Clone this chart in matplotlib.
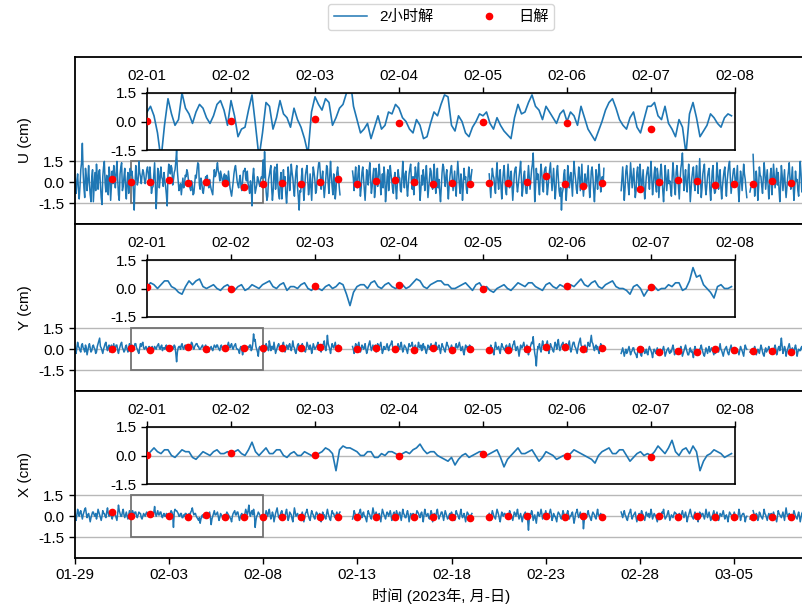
import numpy as np
import pandas as pd
import matplotlib
matplotlib.use("Agg")
import matplotlib.pyplot as plt
import matplotlib.dates as mdates
from matplotlib.patches import Rectangle

plt.rcParams['font.family'] = ['Liberation Sans', 'Noto Sans CJK SC']
plt.rcParams['font.size'] = 11
plt.rcParams['axes.unicode_minus'] = False

N = None
# ---------- 2-hour solutions, sampled hourly, in mm; one row per day from 2023-01-29 ----------
U_mm = [
 [3, -2, -8, 1, 6, -5, -12, -3, 9, 14, 28, 7, -4, -11, 10, 4, -6, 2, 12, -1, -9, -14, 4, 9],
 [-14, -4, 7, -6, 13, 3, -5, 8, 9, -2, -11, -16, 4, 11, 15, -1, -7, 5, 2, -9, 11, 6, -13, -3],
 [8, -1, 12, 5, -4, 7, 15, 2, -9, -13, 6, 11, 14, -6, -3, 4, 10, -5, -12, 1, 7, -8, 3, 10],
 [5, 8, 3, -6, -20, -2, 12, 4, -2, 1, 15, 7, 4, -1, 5, 9, 7, 2, -1, 3, 9, 11, 6, -2],
 [11, 3, -8, -4, -3, 6, 14, -2, -19, -6, 10, 8, -4, 2, 11, 4, 2, -3, 7, 1, -3, -9, -17, 5],
 [13, 9, 6, 12, 10, -2, 2, 7, 9, 15, 23, 8, 1, -6, -4, -1, -9, -3, 3, -4, -2, 5, 4, 9],
 [7, 2, 0, -4, -6, 1, -2, -9, -8, -1, 5, 3, 9, 14, 13, -2, -5, 3, 0, -6, -8, -3, 0, 4],
 [3, 5, -1, -4, 2, -2, -5, -7, -9, 2, 9, 4, 5, 10, 14, 8, 6, 1, 8, 5, 2, -1, 4, 6],
 [0, 5, 3, -2, 8, 2, -4, -7, -10, -5, 0, 6, 10, 12, 7, 1, -2, -4, 2, 5, -3, -6, 1, 8],
 [8, 10, 3, 1, 8, -1, -4, -8, 1, -3, -17, 4, 10, 2, -8, -5, -2, 4, 2, -1, -3, 2, 4, 3],
 [16, 3, 22, 6, -7, -13, -10, 2, 5, 9, 12, -4, -13, -6, 8, 11, -5, 3, 13, -2, -9, -12, 2, 7],
 [-12, -3, 9, -1, 4, -8, -15, -6, 11, 5, -6, 2, 13, 7, 3, -5, -10, 1, 8, 12, -4, -11, -20, -6],
 [-7, 4, 10, -2, -13, -5, 5, 9, 12, 1, -9, -4, 6, -3, -13, 2, 11, 7, 2, -8, -6, 3, 9, 14],
 [14, 6, -5, 2, 8, -3, -11, -4, 3, 12, 10, -1, -8, 5, 15, 4, -3, -9, 6, 1, -12, -5, 7, 11],
 [5, -3, -9, N, N, N, N, N, N, N, N, N, N, N, N, N, N, N, 8, 3, -6, 4, 11, -2],
 [-4, 6, 12, 1, -10, -4, 7, 11, 3, -6, -13, -2, 9, 4, -2, 8, 14, 2, -8, -3, 5, 10, -11, -5],
 [10, 2, -3, 7, 13, 4, -9, -2, 6, -4, 11, 5, -14, -7, 4, 9, -6, 1, 12, 6, 1, -5, -8, 3],
 [7, -4, -12, -1, 9, 4, 3, -6, -7, 5, 15, 2, -4, 6, 8, -3, -10, -2, 6, 10, 13, 1, -5, 4],
 [-9, 2, 11, 5, -2, 8, 14, -1, -13, -5, 5, -2, 9, 3, -6, 4, 12, 1, -11, -4, 3, 10, 8, -3],
 [-5, 6, 13, 0, -8, 3, 10, -4, 2, -7, -14, -3, 7, 13, 11, 2, -3, 5, 9, -4, -12, -2, 4, 9],
 [12, 3, -6, 1, 8, -4, -10, 5, 15, 6, -2, -8, 6, 1, -13, -3, 10, 2, 4, -5, -8, 3, 11, 5],
 [-3, 4, 9, N, N, N, N, N, N, N, N, N, N, N, N, N, N, N, N, N, N, N, N, N],
 [6, -2, -11, 1, 10, 5, 3, -4, -8, 6, 14, 2, -5, 3, 9, -3, -12, -1, 7, 12, 2, -6, -9, 4],
 [13, 5, -4, 3, 8, -2, -13, -3, 6, 10, 11, -1, -7, -2, 4, 9, 15, 3, -10, -4, 5, 8, -2, -8],
 [-8, 3, 12, 4, -5, 2, 9, 13, 21, 5, -14, -4, 10, 2, 6, -3, -9, 4, 13, 6, -3, -7, 7, 10],
 [11, 1, -9, -3, 4, 9, 14, 3, -6, 2, 10, -2, -12, -4, 8, 12, 3, -6, -10, -4, -20, -8, -5, 6],
 [9, -2, -13, -4, 12, 6, -4, 3, 7, -1, -10, 4, 15, 7, 2, -5, -8, 1, 11, 4, -6, 3, 13, -2],
 [-10, -2, 6, 1, -3, 5, 12, -1, -11, -3, 8, 11, 4, -6, -14, -2, 9, 3, -5, 6, 13, 4, -7, 2],
 [4, -3, 10, N, N, N, N, N, N, N, N, N, N, N, N, N, N, N, N, N, N, N, N, N],
 [-6, 3, 11, -2, -13, -4, 8, 12, 5, -3, -9, 2, 14, 5, -4, 3, 10, -2, -11, -6, 7, 11, 2, -5],
 [13, 4, -7, 1, 9, -3, -12, -5, 4, 8, 11, 2, -5, 6, 15, 3, -9, -2, 6, 11, -2, -7, 10, 5],
 [-11, -2, 8, 13, 3, -6, -14, -3, 12, 5, -6, 2, 9, -1, 1, -5, -10, 4, 14, 6, -4, -9, 7, 12],
 [5, -4, -12, 1, 10, 14, 21, 6, -6, 3, 9, -2, -7, 4, 13, 2, -14, -5, 3, 8, 11, -1, -6, 4],
 [12, 3, -8, 5, 17, 2, -11, -4, 6, 10, 13, -2, -9, -3, 4, 8, 10, -5, -13, -2, 8, 12, -3, -8],
 [-7, 2, 14, 6, -5, 3, 9, -4, -12, -3, 3, 8, 11, -2, -10, 1, 7, 12, 15, 3, -8, -2, 4, 9],
 [10, 2, -3, 5, 12, -4, -14, -3, 8, 3, -6, 4, 13, 6, 2, -5, -11, N, N, N, -7, -4, N, N],
 [20, 6, -10, -2, 8, 1, -13, -4, 11, 5, 4, -3, -8, 3, 14, 7, -5, 2, 9, -1, -12, -4, 6, 10],
 [-9, 1, 13, 4, -4, 3, 10, -2, 7, -5, -14, -3, 12, 5, -6, 2, 9, -3, -11, -4, 3, 8, 14, 2],
 [-5, 3, 11, -2, -13, -4, 8, 1, 2, -6, -10, 4, 15, 6, -7, -1, 12, 3, -3, 5, 9, -4, -12, -2],
]
Y_mm = [
 [2, 0, -3, 1, 5, 2, 1, -1, -2, 3, 4, 1, 0, -2, 3, 1, -4, -1, 2, 4, 1, -2, -1, 2],
 [3, 1, 0, -3, -2, 2, 4, 6, 8, 2, 1, -1, -3, 0, 2, 4, 5, 1, -1, 2, 3, -2, 0, 3],
 [-2, 1, 4, 0, 1, 3, 3, -1, -3, 0, 2, 4, 5, 1, 0, -2, -1, 2, 3, 0, -2, 1, 4, 2],
 [1, 3, 2, 0, 2, 4, 4, 1, 0, -2, -3, 1, 4, 2, 4, 5, 1, 0, 1, 2, 0, -1, 1, 2],
 [0, -1, 1, 2, -1, 0, 2, 1, 0, 2, 3, 4, 1, 0, 2, 3, -1, 1, 1, 0, 2, 3, 0, -1],
 [1, 0, -1, 1, 2, 0, 1, 3, 2, -3, -9, -2, 1, 2, 2, 0, 3, 4, 1, 0, 2, 3, 1, 0],
 [1, 2, 0, 1, 3, 5, 4, 1, 0, 2, 3, 4, 4, 2, 2, 0, 0, 1, 2, 3, 1, -1, 2, 3],
 [0, 1, -1, -2, 0, 1, 2, 0, -1, 1, 3, 2, 1, 3, 3, 1, 0, -1, 2, 3, 1, 0, 2, 1],
 [0, 2, 1, 3, 5, 2, 1, 3, 4, 1, 0, 2, 3, 4, 1, 0, 0, -1, -3, 1, 2, 0, -4, -1],
 [0, 1, -1, 0, 0, 2, 1, 3, 3, -1, 0, 4, 11, 6, 7, 2, 0, -2, -5, 1, 2, 0, 0, 1],
 [3, 0, -2, 1, 4, 2, 1, -1, 6, 3, -1, 2, 2, 0, 5, 1, -3, -1, 1, 3, 4, 1, 0, 2],
 [2, 3, 5, 1, -2, 0, 3, 2, 0, 3, 4, 1, -1, 2, 6, 2, 1, -2, -3, 0, 3, 4, 2, -1],
 [-1, 1, 4, 2, 2, -1, -2, 1, 5, 3, 1, 0, 3, 1, -3, 0, 4, 2, 0, 1, 2, 3, 5, 1],
 [1, 0, -2, 1, 3, 4, 6, 1, -1, 3, 10, 4, 2, 0, -3, 1, 4, 2, 1, 3, 5, 1, -1, 2],
 [3, 1, 0, N, N, N, N, N, N, N, N, N, N, N, N, N, N, N, 2, 0, -3, 1, 4, 2],
 [1, 3, 5, 1, -2, 0, 3, 2, 0, 1, 4, 0, -3, -1, 2, 4, 6, 2, -1, 1, 3, 0, 1, 3],
 [-2, 1, 4, 2, 1, 3, 5, 1, -3, -1, 2, 0, 0, 2, 4, 1, -1, 2, 3, 4, 6, 2, 0, -1],
 [2, 0, -1, 2, 4, 1, 0, 3, 5, 1, -2, 0, 3, 2, 1, -1, -3, 1, 4, 2, 2, 3, 5, 1],
 [0, 1, 3, 0, -2, 1, 5, 2, 1, 3, -1, 0, 4, 1, 2, -1, -3, 0, 3, 2, 0, 2, 4, 1],
 [-1, 1, 2, 3, 5, 1, 0, 2, 3, 0, -3, 1, 4, 2, 1, -1, -2, 2, 5, 3, 2, 0, -1, 1],
 [3, 1, 0, -1, -2, 2, 4, 1, 1, 3, 5, 2, -1, 0, 2, -2, -4, 0, 3, 1, 1, 2, 0, 3],
 [2, 0, -1, N, N, N, N, N, N, N, N, N, N, N, N, N, N, N, N, N, N, N, N, N],
 [-2, 0, 3, 1, 1, -2, -4, 1, 5, 2, 0, 1, 2, -1, -3, 1, 4, 2, 1, 0, -1, 2, 3, 1],
 [0, 2, 4, 1, -2, 0, 3, 4, 6, 2, -1, 1, 2, -1, -5, -1, 3, 1, 1, 3, 5, 2, -2, 0],
 [3, 0, -4, -1, 1, 3, 5, 4, 9, 2, -3, -6, -12, -3, 2, 1, 4, 0, -2, 2, 6, 3, 1, 0],
 [2, 4, 6, 1, -3, 0, 4, 2, 1, -1, -2, 2, 5, 3, 0, 4, 7, 2, -1, 1, 3, 4, 5, 1],
 [-1, 2, 4, 1, 2, 4, 6, 1, -2, 0, 3, 5, 5, 2, 1, -1, -3, 1, 4, 6, 8, 3, 2, 0],
 [1, 2, 3, 0, -2, 2, 5, 3, 2, 6, 10, 5, 4, 1, -1, 2, 3, 0, 2, -1, -3, 1, 4, 2],
 [2, 0, -1, N, N, N, N, N, N, N, N, N, N, N, N, N, N, N, N, N, N, N, N, N],
 [-3, -1, 1, -2, -5, -2, 0, -3, -2, 0, 2, -1, -4, -2, -1, 1, 1, -2, -3, -4, -6, -2, 0, -1],
 [-2, -4, -5, -1, 1, -1, -3, -2, 0, -3, -4, 0, 2, 0, -1, -3, -6, -2, 0, -1, -3, -1, 1, -2],
 [-4, -1, 0, -3, -2, 0, 2, -1, -5, -3, -1, 0, 1, -2, -3, -1, -2, 1, 3, 0, -4, -2, -1, 0],
 [0, -2, -3, 0, 2, -1, -5, -3, -1, 1, 3, 0, -2, -4, -4, -1, 1, -2, -1, -3, -6, -1, 2, 0],
 [-1, -3, -4, -1, 0, 1, 3, 0, -2, -4, -5, -2, 1, -1, -3, 0, 2, -2, -1, 1, 0, -2, -4, -1],
 [-3, -1, 1, -1, -2, 1, 4, 0, -1, -3, -5, -2, 0, 1, 2, -1, -3, -4, -1, 1, 3, 0, -2, -3],
 [1, -1, -3, -1, 0, -2, -4, -1, 2, 0, -1, -3, -5, 0, 3, 1, 0, N, N, N, -2, -1, N, N],
 [-1, 0, 2, -1, -4, -2, 0, -1, -3, 0, 3, 1, -2, -4, -5, -1, 1, -2, -1, 0, 2, -1, -3, -2],
 [-2, -1, 0, 1, 3, 0, -4, -2, 1, 2, -1, 3, 8, 2, -3, -1, 2, 0, -5, -2, 0, 2, 4, 1],
 [-4, -2, 1, -1, -2, 1, 3, 0, -5, -2, 0, -1, -1, 1, 2, -1, -3, -1, 1, -2, -6, -3, 0, -1],
]
X_mm = [
 [2, 0, -3, 1, 5, 2, 0, 3, 4, 1, -2, 1, 3, 5, 6, 2, -1, 1, 2, -1, -4, -1, 1, 3],
 [3, 1, 0, 2, -2, 1, 5, 3, 1, -1, -3, 0, 4, 2, 2, 0, -1, 3, 6, 2, 0, 1, 3, 0],
 [-2, 1, 4, 2, 1, -1, -3, 2, 8, 4, 2, 0, 0, 3, 5, 1, -1, 1, 3, 0, -2, 1, 4, 2],
 [0, 2, 4, 2, 1, 3, 3, 0, -1, 1, 3, 2, 2, -1, -2, 0, 2, 1, 0, 2, 3, 1, 1, 2],
 [1, 2, 3, 1, 0, 3, 7, 2, 0, 2, 4, 1, 1, 3, 3, 0, -1, 1, 2, 0, 0, 2, 1, 0],
 [0, 1, 2, 4, 3, 1, -8, 3, 5, 4, 4, 3, 2, 0, 0, 2, 2, -1, -1, 1, 0, 2, 2, 1],
 [0, 1, 2, 1, 3, 4, 6, 3, 1, 2, 2, 0, -1, -2, -3, -1, -5, -2, 0, 1, -1, 0, 1, 2],
 [2, 0, 1, 2, 3, -1, -6, -2, 0, 2, 4, 1, 1, 2, 3, 0, -3, -1, 2, 1, 0, -2, -1, 0],
 [0, 1, 3, 2, 1, 0, -1, -2, -4, 0, 2, 3, 4, 1, 1, 3, 3, 0, -3, -1, 1, 2, 0, 1],
 [0, 2, 5, 3, 1, 4, 8, 2, 0, 3, 4, 1, 5, 2, -8, -3, 0, 1, 3, 2, 1, -1, 0, 1],
 [1, -1, -3, 1, 4, 2, 0, 3, 5, 1, -2, 0, 3, 1, -4, -1, 2, 4, 6, 2, -1, 0, 1, 3],
 [4, 1, -2, 0, 0, 3, 5, 1, -3, -1, 3, 2, 1, -2, -4, 1, 6, 3, 0, 1, 2, 0, -2, 1],
 [-1, 1, 3, 0, -4, -1, 2, 3, 5, 2, 0, -2, -3, 1, 4, 2, 1, -1, -2, 1, 3, 2, 0, -1],
 [2, 0, -4, -1, 3, 1, 1, -1, -2, 2, 5, 2, 0, -2, -3, 1, 4, 2, 2, 0, -1, 1, 3, 1],
 [0, 2, 3, N, N, N, N, N, N, N, N, N, N, N, N, N, N, N, -2, 0, 4, 2, 1, -1],
 [-3, -1, 2, 3, 5, 1, -1, 2, 3, 0, 0, -2, -4, 1, 4, 2, 1, -1, -2, 2, 6, 3, 0, 1],
 [3, 1, -1, 0, 2, -1, -4, 1, 5, 3, 1, 0, -2, 1, 3, 2, 0, 2, 4, 1, -3, -1, 2, 3],
 [-2, 1, 4, 2, 0, 1, 3, 0, -3, 1, 5, 2, 1, -1, -1, 2, 4, 1, -4, -1, 2, 1, 0, 2],
 [1, -1, -3, 1, 4, 3, 2, 0, -1, 2, 3, 0, -4, 1, 5, 2, 0, 1, 2, -1, -2, 1, 4, 2],
 [-4, -1, 2, 1, 0, 3, 5, 1, -2, 0, 1, 3, 3, 0, -3, 1, 4, 2, 0, -2, -1, 1, 2, 0],
 [3, 1, 0, -1, -3, 1, 4, 2, 1, -1, -2, 2, 5, 1, -1, 0, 2, -1, -4, 0, 3, 2, 1, 0],
 [-1, 1, 2, N, N, N, N, N, N, N, N, N, N, N, N, N, N, N, N, N, N, N, N, N],
 [2, 0, -3, 1, 4, 2, 0, -1, -2, 2, 5, 3, 1, -2, -4, 0, 3, 1, 0, 2, 2, 0, -1, 1],
 [-2, 1, 4, 2, 1, -1, -3, 0, 3, 2, 0, 2, 5, 1, -2, 0, 2, -1, -4, -1, 1, 2, 3, 0],
 [0, -3, -10, -2, 2, 1, 4, 2, -3, -1, 1, -2, -5, 0, 3, 1, 0, 2, 5, 2, -2, 0, 2, 1],
 [4, 1, -2, 0, 1, 3, 5, 2, -3, -1, 2, 0, 0, -2, -4, 1, 3, 2, 1, -1, -2, 1, 4, 2],
 [-3, -1, 1, 2, 4, 1, -2, 0, 0, 2, 3, -1, -5, -2, 2, 3, 5, 1, -1, 1, 3, 0, -2, 1],
 [-9, -3, 2, 0, -1, 2, 4, 1, 0, -2, -3, 1, 3, 2, 1, -1, -2, 2, 5, 1, 0, 1, 2, 0],
 [1, 0, -2, N, N, N, N, N, N, N, N, N, N, N, N, N, N, N, N, N, N, N, N, N],
 [3, 1, -1, 2, 4, 1, 0, -2, -3, 0, 2, 3, 5, 1, -2, 0, 1, 2, 3, -1, -4, -1, 0, 2],
 [-2, 1, 4, 2, 1, -1, -3, 0, 3, 1, 0, 2, -1, 1, 5, 2, -2, 0, 2, 1, 0, -2, -4, -1],
 [2, 0, -1, 1, 3, 2, 5, 1, -2, -1, 0, 2, 4, 1, -3, -1, 1, 0, -1, 1, 3, 2, 2, 0],
 [-3, 0, 2, 1, 0, 2, 4, 1, -1, 1, 3, 0, -4, -1, 1, 3, 5, 2, 0, -1, -2, 1, 3, 1],
 [1, -1, -4, 0, 3, 1, 0, 2, 2, 0, -2, 1, 5, 2, -1, 1, 3, 0, -3, -1, 0, 2, 4, 1],
 [-1, 1, 3, 0, -3, -1, 2, 1, 0, 2, 4, 1, -2, 0, 1, -1, -4, 0, 3, 2, 1, 0, -1, 1],
 [3, 1, 0, -1, -2, 1, 5, 2, -3, 0, 1, 2, 2, 0, -4, -1, 0, N, N, N, -2, 0, N, N],
 [4, 2, -1, 0, 2, 1, -3, -1, 3, 2, 0, -1, -2, 1, 5, 2, 1, -1, -3, 0, 2, 1, 0, 2],
 [-2, 1, 3, 1, 0, -2, -4, 0, 4, 2, 1, 0, -1, 1, 3, 0, -3, 2, 6, 2, 0, 1, 2, 0],
 [1, -1, -3, 1, 4, 2, 0, -1, -2, 1, 3, 0, -4, -1, 2, 3, 5, 1, -1, 0, 0, 2, 3, 1],
]

# ---------- daily solutions (cm), 2023-01-31 .. 2023-03-08 without 2023-02-27 ----------
U_day = [0.2, 0.05, 0.05, 0.15, -0.07, 0, -0.07, -0.37, -0.15, -0.07, -0.1, 0.05, 0.25, -0.12,
         0.12, 0.15, 0.05, -0.1, -0.05, -0.12, -0.07, -0.02, 0, 0.45, -0.1, -0.25, -0.03,
         -0.45, 0.05, 0.15, 0.12, -0.2, -0.1, -0.12, 0.12, -0.05]
Y_day = [0, 0.1, -0.05, 0.12, 0.19, 0, 0.12, 0.07, 0.07, 0.07, 0.07, 0.14, 0.1, 0,
         0.1, 0, -0.05, 0.1, -0.07, 0.02, -0.07, -0.02, 0.05, 0.14, 0.14, 0.05, 0.1,
         0.02, -0.19, -0.1, -0.21, 0.02, -0.02, -0.1, -0.12, -0.21]
X_day = [0.34, 0.02, 0.15, 0.05, -0.02, 0.1, -0.02, -0.07, -0.02, -0.02, -0.02, -0.02, -0.02, -0.07,
         -0.07, -0.02, -0.02, -0.02, -0.02, -0.1, -0.02, 0, 0.05, 0.02, -0.02, 0.05, -0.02,
         -0.02, 0.05, -0.02, 0.05, -0.05, -0.05, -0.07, -0.05, -0.05]

components = ['U (cm)', 'Y (cm)', 'X (cm)']
legend_labels = ['2小时解', '日解']
xlabel_text = '时间 (2023年, 月-日)'


def flatten(rows, name):
    for k, r in enumerate(rows):
        if len(r) != 24:
            raise ValueError(f'{name} day {k} has {len(r)} values')
    return np.array([v for r in rows for v in r], dtype=float) / 10.0


series_h = [flatten(U_mm, 'U'), flatten(Y_mm, 'Y'), flatten(X_mm, 'X')]
series_day = [U_day, Y_day, X_day]

start = pd.Timestamp('2023-01-29 00:00')
th = pd.date_range(start, periods=len(series_h[0]), freq='1h')
tday = pd.date_range('2023-01-31', '2023-03-08', freq='D')
tday = tday[tday != pd.Timestamp('2023-02-27')]
zoom_start = pd.Timestamp('2023-02-01')
zoom_end = pd.Timestamp('2023-02-08')

# ---------- figure ----------
W_PX, H_PX = 802, 614
fig = plt.figure(figsize=(W_PX / 100, H_PX / 100), dpi=100)

left_px, right_px = 74.5, 808.0
px_per_day = 18.85
panel_h = 167.0
panel_tops = [57.0, 224.0, 391.0]
xmax = start + pd.Timedelta(days=(right_px - left_px) / px_per_day)

blue = '#1f77b4'
axes_main = []
for i, (name, vals, sday, top) in enumerate(zip(components, series_h, series_day, panel_tops)):
    ax = fig.add_axes([left_px / W_PX, 1 - (top + panel_h) / H_PX,
                       (right_px - left_px) / W_PX, panel_h / H_PX])
    l1, = ax.plot(th, vals, color=blue, lw=1.1, zorder=2, label=legend_labels[0])
    l2, = ax.plot(tday, sday, 'o', color='red', ms=4.5, zorder=3, label=legend_labels[1])
    ax.set_xticks(pd.date_range(start, '2023-03-05', freq='5D'))
    ax.xaxis.set_major_formatter(mdates.DateFormatter('%m-%d'))
    ax.set_xlim(start, xmax)
    ax.set_ylim(-3.0, 9.0)
    ax.set_yticks([-1.5, 0.0, 1.5])
    ax.set_yticklabels(['-1.5', '0.0', '1.5'])
    ax.yaxis.grid(True, color='#b8b8b8', lw=1.0)
    ax.set_axisbelow(True)
    ax.set_ylabel(name)
    ax.spines['right'].set_visible(False)
    for sp in ['left', 'top', 'bottom']:
        ax.spines[sp].set_linewidth(1.3)
    ax.tick_params(axis='y', length=4, width=1.0)
    if i < 2:
        ax.tick_params(axis='x', bottom=False, labelbottom=False)
    else:
        ax.tick_params(axis='x', length=4, width=1.0)
        ax.set_xlabel(xlabel_text)
    rect = Rectangle((mdates.date2num(zoom_start), -1.5),
                     mdates.date2num(zoom_end) - mdates.date2num(zoom_start), 3.0,
                     fill=False, ec='0.45', lw=1.3, zorder=1.5)
    ax.add_patch(rect)
    axes_main.append(ax)

    # inset (zoom of 02-01 .. 02-08)
    ins_top = top + 36.0
    ins = fig.add_axes([147 / W_PX, 1 - (ins_top + 57.0) / H_PX, 588 / W_PX, 57.0 / H_PX])
    mask = (th >= zoom_start) & (th < zoom_end)
    ins.plot(th[mask], vals[mask], color=blue, lw=1.2, zorder=2)
    dmask = (tday >= zoom_start) & (tday < zoom_end)
    ins.plot(tday[dmask], np.array(sday)[dmask], 'o', color='red', ms=4.5, zorder=3)
    ins.set_xticks(pd.date_range(zoom_start, zoom_end, freq='D'))
    ins.xaxis.set_major_formatter(mdates.DateFormatter('%m-%d'))
    ins.set_xlim(zoom_start, zoom_end)
    ins.set_ylim(-1.5, 1.5)
    ins.set_yticks([-1.5, 0.0, 1.5])
    ins.set_yticklabels(['-1.5', '0.0', '1.5'])
    ins.yaxis.grid(True, color='#b8b8b8', lw=1.0)
    ins.set_axisbelow(True)
    ins.tick_params(axis='x', top=True, labeltop=True, bottom=False, labelbottom=False,
                    length=4, width=1.0)
    ins.tick_params(axis='y', length=4, width=1.0)
    for sp in ins.spines.values():
        sp.set_linewidth(1.2)

axes_main[0].legend(handles=[l1, l2], labels=legend_labels, ncol=2,
                    loc='upper center', bbox_to_anchor=(441 / W_PX, 1 - 4 / H_PX),
                    bbox_transform=fig.transFigure, borderaxespad=0,
                    columnspacing=2.5, handlelength=2.2, frameon=True)

fig.savefig('out.png', dpi=100)
